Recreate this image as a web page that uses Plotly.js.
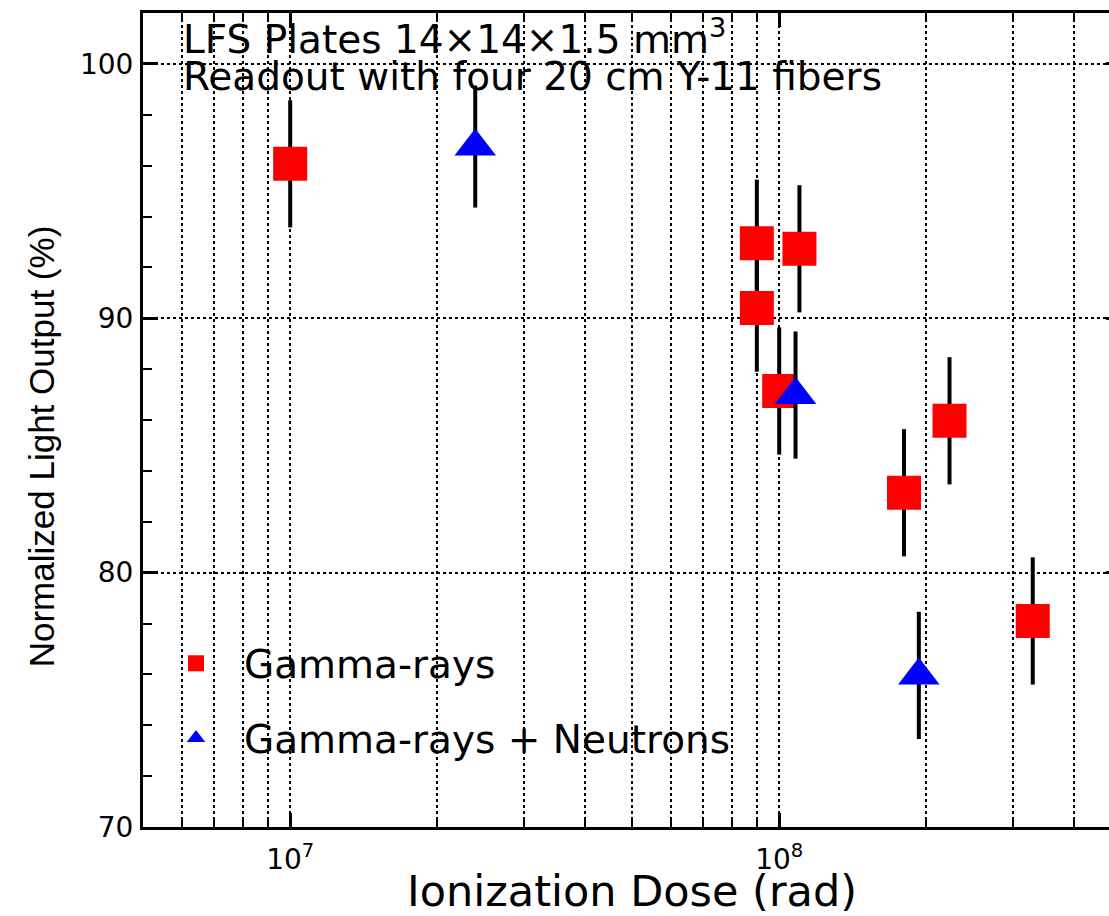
<!DOCTYPE html>
<html>
<head>
<meta charset="utf-8">
<script src="https://cdn.plot.ly/plotly-3.0.1.min.js"></script>
<style>
  html, body { margin: 0; padding: 0; overflow: hidden; background: #fff; }
  #chart { width: 1140px; height: 916px; }
</style>
</head>
<body>
<div id="chart"></div>
<script>
// ---- data ----
const gammaDose  = [1.0e7, 9.0e7, 9.0e7, 1.0e8, 1.1e8, 1.8e8, 2.23e8, 3.3e8];
const gammaLight = [96.07, 92.95, 90.40, 87.14, 92.73, 83.14, 85.97, 78.10];
const gammaErr   = [2.5, 2.5, 2.5, 2.5, 2.5, 2.5, 2.5, 2.5];

const neutronDose  = [2.39e7, 1.08e8, 1.93e8];
const neutronLight = [96.75, 86.98, 75.96];
const neutronErr   = [2.4, 2.5, 2.5];

const seriesNames = ['Gamma-rays', 'Gamma-rays + Neutrons'];
const xMajorTicks = [1e7, 1e8];
const xMajorLabels = ['10<sup>7</sup>', '10<sup>8</sup>'];
const xMinorTicks = [6e6, 7e6, 8e6, 9e6, 2e7, 3e7, 4e7, 5e7, 6e7, 7e7, 8e7, 9e7, 2e8, 3e8, 4e8];
const yMajorTicks = [70, 80, 90, 100];
const yMajorLabels = ['70', '80', '90', '100'];
const xRange = [5e6, 5e8];
const yRange = [70, 102];
const titleLine1 = 'LFS Plates 14×14×1.5 mm<sup>3</sup>';
const titleLine2 = 'Readout with four 20 cm Y-11 fibers';
const xTitle = 'Ionization Dose (rad)';
const yTitle = 'Normalized Light Output (%)';

const WIDE = 'DejaVu Sans, Verdana, sans-serif';
const FONT = 'Liberation Sans, Arial, Helvetica, sans-serif';

const traces = [
  {
    type: 'scatter', mode: 'markers', name: seriesNames[0], legend: 'legend',
    x: gammaDose, y: gammaLight,
    error_y: { type: 'data', array: gammaErr, visible: true, color: '#000', thickness: 4, width: 0 },
    marker: { symbol: 'square', size: 34, color: '#ff0000', line: { width: 0 } }
  },
  {
    type: 'scatter', mode: 'markers', name: seriesNames[1], legend: 'legend2',
    x: neutronDose, y: neutronLight,
    error_y: { type: 'data', array: neutronErr, visible: true, color: '#000', thickness: 4, width: 0 },
    marker: { symbol: 'triangle-up', size: 36, color: '#0000ff', line: { width: 0 } }
  }
];

const legendCommon = {
  xanchor: 'left', yanchor: 'middle', itemwidth: 86,
  bgcolor: 'rgba(0,0,0,0)', borderwidth: 0,
  font: { size: 39, family: WIDE, color: '#000' }
};

const layout = {
  width: 1140, height: 916,
  margin: { l: 143, r: 19, t: 13, b: 89 },
  paper_bgcolor: '#fff', plot_bgcolor: '#fff',
  font: { family: WIDE, color: '#000', size: 28 },
  showlegend: true,
  xaxis: {
    type: 'log',
    range: [Math.log10(xRange[0]), Math.log10(xRange[1])],
    tickmode: 'array', tickvals: xMajorTicks, ticktext: xMajorLabels,
    ticks: 'inside', ticklen: 14, tickwidth: 3, tickcolor: '#000',
    ticklabelstandoff: 5,
    tickfont: { size: 28, family: WIDE, color: '#000' },
    showline: true, linewidth: 3, linecolor: '#000', mirror: 'ticks',
    showgrid: true, gridcolor: '#000', gridwidth: 2, griddash: 'dot',
    zeroline: false,
    minor: { tickmode: 'array', tickvals: xMinorTicks, ticks: 'inside', ticklen: 9, tickwidth: 2, tickcolor: '#000',
             showgrid: true, gridcolor: '#000', gridwidth: 2, griddash: 'dot' },
    title: { text: xTitle, font: { size: 43, family: WIDE, color: '#000' }, standoff: 3 }
  },
  yaxis: {
    range: yRange,
    tickmode: 'array', tickvals: yMajorTicks, ticktext: yMajorLabels,
    ticks: 'inside', ticklen: 15, tickwidth: 3, tickcolor: '#000',
    ticklabelstandoff: 1,
    tickfont: { size: 28, family: WIDE, color: '#000' },
    showline: true, linewidth: 3, linecolor: '#000', mirror: 'ticks',
    showgrid: true, gridcolor: '#000', gridwidth: 2, griddash: 'dot',
    zeroline: false,
    minor: { dtick: 2, ticks: 'inside', ticklen: 9, tickwidth: 2, tickcolor: '#000', showgrid: false }
  },
  legend: Object.assign({ x: 0.0051, y: 0.201 }, legendCommon),
  legend2: Object.assign({ x: 0.0051, y: 0.109 }, legendCommon),
  annotations: [
    { xref: 'paper', yref: 'paper', x: 0.0389, y: 0.971, xanchor: 'left', yanchor: 'middle',
      text: titleLine1, showarrow: false, font: { size: 39, family: WIDE, color: '#000' } },
    { xref: 'paper', yref: 'paper', x: 0.0389, y: 0.922, xanchor: 'left', yanchor: 'middle',
      text: titleLine2, showarrow: false, font: { size: 39, family: WIDE, color: '#000' } },
    { xref: 'paper', yref: 'paper', x: -0.1043, y: 0.4677, xanchor: 'center', yanchor: 'middle',
      textangle: -90, text: yTitle, showarrow: false, font: { size: 35, family: FONT, color: '#000' } }
  ]
};

Plotly.newPlot('chart', traces, layout, { displayModeBar: false, responsive: false, staticPlot: true });
</script>
</body>
</html>
